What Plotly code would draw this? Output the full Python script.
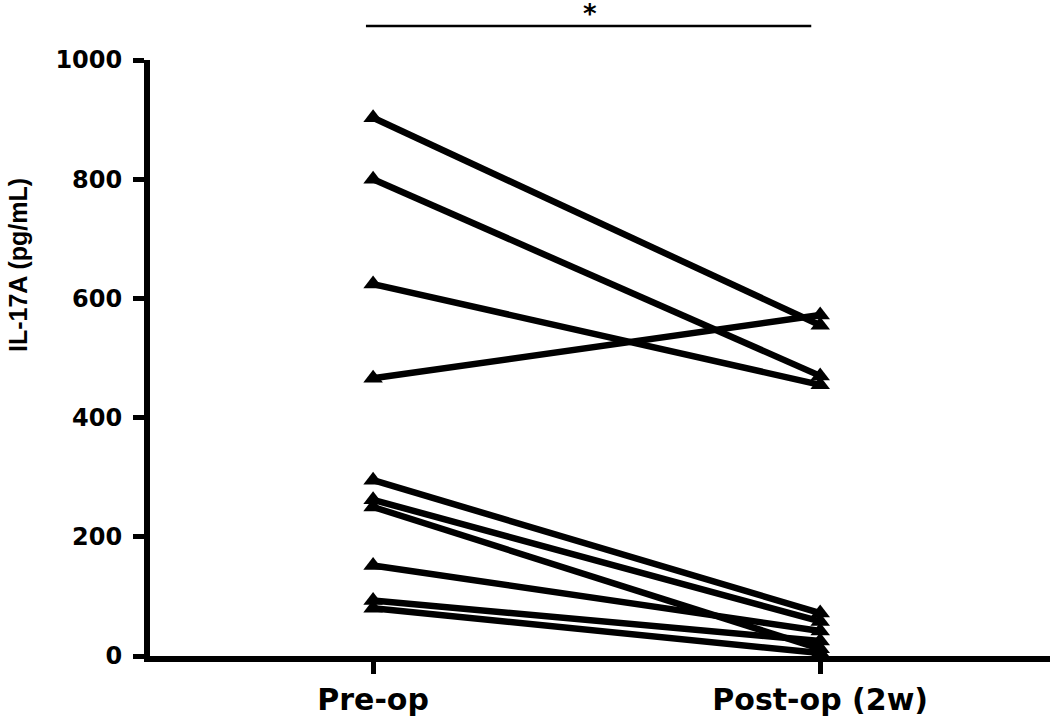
import plotly.graph_objects as go

categories = ["Pre-op", "Post-op (2w)"]
pre_op = [903, 800, 624, 466, 295, 262, 250, 152, 93, 80]
post_op = [555, 470, 455, 572, 72, 58, 12, 42, 25, 5]
y_ticks = [0, 200, 400, 600, 800, 1000]

FONT = "DejaVu Sans"

fig = go.Figure()
for a, b in zip(pre_op, post_op):
    fig.add_trace(go.Scatter(
        x=[0, 1], y=[a, b], mode="lines+markers",
        line=dict(color="black", width=6.5),
        marker=dict(symbol="triangle-up", size=17, color="black"),
        cliponaxis=False, showlegend=False, hoverinfo="y"))

W, H = 1050, 716
L, R, T, B = 150, 0, 60, 60
pw, ph = W - L - R, H - T - B

fig.update_layout(
    width=W, height=H, margin=dict(l=L, r=R, t=T, b=B),
    paper_bgcolor="white", plot_bgcolor="white",
    xaxis=dict(range=[-0.499, 1.514], tickvals=[0, 1], ticktext=categories,
               ticks="outside", ticklen=12, tickwidth=5, tickcolor="black",
               showline=True, linewidth=6, linecolor="black",
               showgrid=False, zeroline=False,
               tickfont=dict(family=FONT, size=30, color="black", weight="bold")),
    yaxis=dict(range=[0, 1000], tickvals=y_ticks,
               ticks="outside", ticklen=11, tickwidth=5, tickcolor="black",
               showline=True, linewidth=6, linecolor="black",
               showgrid=False, zeroline=False, ticklabelstandoff=6,
               tickfont=dict(family=FONT, size=24, color="black", weight="bold")),
)

def px_x(px):
    return (px - L) / pw

def px_y(py):
    return (H - B - py) / ph

fig.add_annotation(text="IL-17A (pg/mL)", xref="paper", yref="paper",
                   x=px_x(18), y=px_y(265), xanchor="center", yanchor="middle",
                   textangle=-90, showarrow=False,
                   font=dict(family="Liberation Sans", size=25, color="black",
                             weight="bold"))

fig.add_shape(type="line", xref="x", yref="paper", x0=-0.016, x1=0.98,
              y0=px_y(26), y1=px_y(26), line=dict(color="black", width=2.5))
fig.add_annotation(text="*", xref="x", yref="paper", x=0.485, y=px_y(14),
                   xanchor="center", yanchor="middle", showarrow=False,
                   font=dict(family=FONT, size=26, color="black", weight="bold"))

fig.write_html("out.html", config={"displayModeBar": False},
               post_script="document.body.style.margin='0';"
                           "document.body.style.overflow='hidden';")
